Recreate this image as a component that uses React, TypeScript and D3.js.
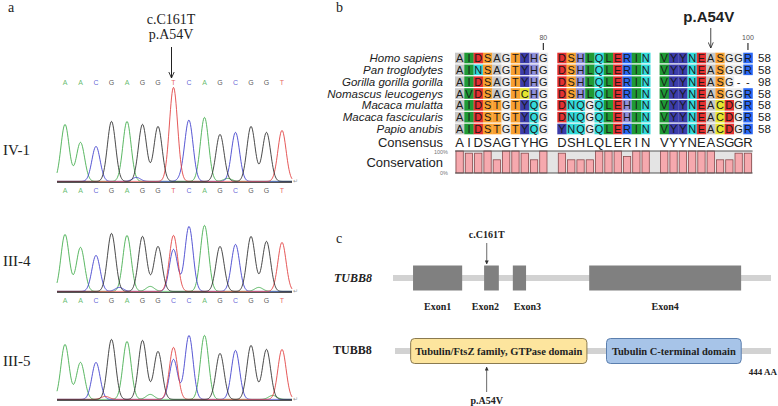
import React from 'react';
import * as d3 from 'd3';

// ---------- Panel a data ----------
const SEQ_REF = ['A', 'A', 'C', 'G', 'A', 'G', 'G', 'T', 'C', 'A', 'G', 'C', 'G', 'G', 'T'];
const SEQ_HET = ['A', 'A', 'C', 'G', 'A', 'G', 'G', 'C', 'C', 'A', 'G', 'C', 'G', 'G', 'T'];
const IV1_HEIGHTS = [57, 39, 35, 60, 60, 57, 55, 94, 60, 64, 47, 49, 55, 49, 51];
const III4_HEIGHTS = [57, 44, 36, 58, 56, 55, 45, 56, 65, 66, 45, 47, 55, 50, 49];
const III5_HEIGHTS = [55, 37, 37, 60, 58, 59, 48, 52, 64, 64, 46, 49, 54, 50, 50];
const III4_EXTRA = [{ i: 7, base: 'C', h: 42 }];
const III5_EXTRA = [{ i: 7, base: 'C', h: 40 }];
const IV1_MINOR = [{ i: 4.6, base: 'C', h: 4 }, { i: 7.6, base: 'C', h: 4 }, { i: 10.5, base: 'A', h: 3 }];
const III4_MINOR = [{ i: 5.5, base: 'A', h: 5 }, { i: 3.5, base: 'C', h: 4 }, { i: 12.5, base: 'A', h: 4 }];
const III5_MINOR = [{ i: 5.5, base: 'A', h: 5 }, { i: 2.6, base: 'T', h: 3 }, { i: 13.4, base: 'A', h: 4 }];
const SAMPLE_LABELS = ['IV-1', 'III-4', 'III-5'];

// ---------- Panel b data ----------
const SPECIES = [
  'Homo sapiens',
  'Pan troglodytes',
  'Gorilla gorilla gorilla',
  'Nomascus leucogenys',
  'Macaca mulatta',
  'Macaca fascicularis',
  'Papio anubis',
];
const ALIGNMENT = [
  'AIDSAGTYHGDSHLQLERINVYYNEASGGR',
  'AINSAGTYHGDSHLQLERINVYYNEASGGR',
  'AIDSAGTYHGDSHLQLERINVYYNEASG--',
  'AVDSAGTCHGDSHLQLERINVYYNEASGGR',
  'AIDSTGTYQGDNQGQLEHINVYYNEACDGR',
  'AIDSTGTYQGDNQGQLEHINVYYNEACDGR',
  'AIDSTGTYQGYNQGQLERINVYYNEACDGR',
];
const END_NUMBERS = ['58', '58', '98', '58', '58', '58', '58'];
const CONSENSUS = 'AIDSAGTYHGDSHLQLERINVYYNEASGGR';
const CONSERVATION = [
  100, 90, 90, 100, 60, 100, 100, 90, 60, 100,
  90, 60, 60, 60, 100, 100, 100, 75, 100, 100,
  100, 100, 100, 100, 100, 100, 60, 60, 90, 90,
];
const POSITION_TICKS = [{ col: 9, label: '80' }, { col: 29, label: '100' }];
const MUTATION_COL = 25;

// ---------- Panel c data ----------
const EXONS = [
  { name: 'Exon1', start: 53, end: 183 },
  { name: 'Exon2', start: 241, end: 280 },
  { name: 'Exon3', start: 317, end: 352 },
  { name: 'Exon4', start: 519, end: 921 },
];
const GENE_LENGTH = 1000;
const CDNA_MUT_POS = 248;
const DOMAINS = [
  { name: 'Tubulin/FtsZ family, GTPase domain', start: 20, end: 245 },
  { name: 'Tubulin C-terminal domain', start: 270, end: 442 },
];
const PROTEIN_AXIS = 480;
const PROT_MUT_POS = 117;

// ---------- styles / layout ----------
const EXON_LABEL_SHIFT = [0, -6, 8, 0];
const DOMAIN_STYLES = [
  { fill: '#fde59e', stroke: '#8a7a50' },
  { fill: '#a7c4e8', stroke: '#5b7fae' },
];
const BASE_COLORS: Record<string, string> = { A: '#3daa48', C: '#3a3acb', G: '#2a2a2a', T: '#e03b3b' };
const RES_COLORS: Record<string, string> = {
  A: '#c8c8c8', G: '#ebebeb', I: '#1f9a35', V: '#1f9a35', L: '#1f9a35',
  D: '#e43030', E: '#e43030', S: '#f8a030', T: '#f8a030', Y: '#3c3caa', F: '#3c3caa',
  N: '#33dada', Q: '#33dada', H: '#9090dc', R: '#2a68f5', K: '#2a68f5', C: '#e6e630', M: '#e6e630',
};

const SERIF = '"Liberation Serif", "Times New Roman", serif';
const SANS = '"Liberation Sans", Arial, sans-serif';

type Peak = { i: number; base: string; h: number };

function Chromatogram({ baseline, peaks, topLetters, bottomLetters, label, labelY }: {
  baseline: number; peaks: Peak[]; topLetters?: string[]; bottomLetters?: string[]; label: string; labelY: number;
}) {
  const x = d3.scaleLinear().domain([0, 14]).range([65, 282]);
  const y = d3.scaleLinear().domain([0, 100]).range([baseline, baseline - 100]);
  const sigma = 4.1;
  const xs = d3.range(57, 292.01, 0.5);
  const order = ['A', 'C', 'T', 'G'];
  const line = d3.line<[number, number]>().x(d => d[0]).y(d => d[1]);
  return (
    <g>
      <text x={3} y={labelY} fontFamily={SERIF} fontSize={15} fill="#222">{label}</text>
      <line x1={57} x2={292} y1={baseline + 0.5} y2={baseline + 0.5} stroke="#555" strokeWidth={1.2} />
      {order.map(b => {
        const pts: [number, number][] = xs.map(px => {
          let v = 0.6;
          peaks.forEach(p => {
            if (p.base === b) {
              const dx = px - x(p.i);
              v += p.h * Math.exp(-(dx * dx) / (2 * sigma * sigma));
            }
          });
          return [px, y(v)];
        });
        return <path key={b} d={line(pts) || ''} fill="none" stroke={BASE_COLORS[b]} strokeWidth={1} strokeOpacity={0.85} />;
      })}
      {topLetters && topLetters.map((b, i) => (
        <text key={'t' + i} x={x(i)} y={85} textAnchor="middle" fontFamily={SANS} fontSize={7} fill={BASE_COLORS[b]} fillOpacity={0.8}>{b}</text>
      ))}
      {bottomLetters && bottomLetters.map((b, i) => (
        <text key={'b' + i} x={x(i)} y={baseline + 11} textAnchor="middle" fontFamily={SANS} fontSize={7} fill={BASE_COLORS[b]} fillOpacity={0.8}>{b}</text>
      ))}
      <text x={293} y={baseline + 1} fontFamily={SANS} fontSize={6} fill="#999">↵</text>
    </g>
  );
}

function makePeaks(seq: string[], heights: number[], extra: Peak[], minor: Peak[]): Peak[] {
  return [...seq.map((b, i) => ({ i, base: b, h: heights[i] })), ...extra, ...minor];
}

export default function App() {
  // ---------- Panel b scales ----------
  const colW = 9.3;
  const colStart = 455;
  const colScale = d3.scaleLinear().domain([0, 32]).range([colStart, colStart + 32 * colW]);
  const colX = (i: number) => colScale(i + Math.floor(i / 10));
  const rowY = d3.scaleLinear().domain([0, 6]).range([58, 129]);
  const cellH = 10.6;
  const consY = 142;
  const barTop = 151;
  const barBottom = 173;
  const consScale = d3.scaleLinear().domain([0, 100]).range([barBottom, barTop]);
  const labelRight = 443;

  // ---------- Panel c scales ----------
  const geneX = d3.scaleLinear().domain([0, GENE_LENGTH]).range([393, 771]);
  const protX = d3.scaleLinear().domain([0, PROTEIN_AXIS]).range([395, 771]);
  const geneY = 278;
  const protY = 351;

  return (
    <svg width={778} height={406} style={{ position: 'absolute', left: 0, top: 0, background: '#fff' }}>
      <defs>
        <marker id="openArrow" viewBox="0 0 10 10" refX={9} refY={5} markerWidth={7} markerHeight={7} orient="auto">
          <path d="M0,1 L9,5 L0,9" fill="none" stroke="#222" strokeWidth={1.3} />
        </marker>
        <marker id="solidArrow" viewBox="0 0 10 10" refX={9} refY={5} markerWidth={5} markerHeight={5} orient="auto">
          <path d="M0,0 L10,5 L0,10 Z" fill="#333" />
        </marker>
      </defs>
      <rect width={778} height={406} fill="#fff" />

      {/* ---------------- Panel a ---------------- */}
      <text x={8} y={12} fontFamily={SERIF} fontSize={14} fill="#222">a</text>
      <text x={171} y={24} textAnchor="middle" fontFamily={SERIF} fontSize={14} fill="#222">c.C161T</text>
      <text x={171} y={39} textAnchor="middle" fontFamily={SERIF} fontSize={14} fill="#222">p.A54V</text>
      <line x1={171.5} x2={171.5} y1={47} y2={78} stroke="#222" strokeWidth={1} markerEnd="url(#openArrow)" />

      <Chromatogram baseline={182} peaks={makePeaks(SEQ_REF, IV1_HEIGHTS, [], IV1_MINOR)}
        topLetters={SEQ_REF} bottomLetters={SEQ_REF} label={SAMPLE_LABELS[0]} labelY={155} />
      <Chromatogram baseline={292} peaks={makePeaks(SEQ_REF, III4_HEIGHTS, III4_EXTRA, III4_MINOR)}
        bottomLetters={SEQ_HET} label={SAMPLE_LABELS[1]} labelY={266} />
      <Chromatogram baseline={400} peaks={makePeaks(SEQ_REF, III5_HEIGHTS, III5_EXTRA, III5_MINOR)}
        label={SAMPLE_LABELS[2]} labelY={366} />

      {/* ---------------- Panel b ---------------- */}
      <text x={336} y={12} fontFamily={SERIF} fontSize={14} fill="#222">b</text>
      <text x={colX(MUTATION_COL) + colW / 2 - 2} y={22} textAnchor="middle" fontFamily={SANS} fontWeight="bold" fontSize={15} fill="#222">p.A54V</text>
      <line x1={colX(MUTATION_COL) + colW / 2} x2={colX(MUTATION_COL) + colW / 2} y1={28} y2={48} stroke="#333" strokeWidth={0.9} markerEnd="url(#openArrow)" />
      {POSITION_TICKS.map(t => (
        <g key={t.label}>
          <text x={colX(t.col) + colW / 2} y={40} textAnchor="middle" fontFamily={SANS} fontSize={7} fill="#555">{t.label}</text>
          <line x1={colX(t.col) + colW / 2} x2={colX(t.col) + colW / 2} y1={43} y2={50} stroke="#333" strokeWidth={1.2} />
        </g>
      ))}

      {SPECIES.map((sp, r) => (
        <g key={sp}>
          <text x={labelRight} y={rowY(r) + 4} textAnchor="end" fontFamily={SANS} fontStyle="italic" fontSize={11.5} fill="#222">{sp}</text>
          {ALIGNMENT[r].split('').map((ch, i) => (
            <g key={i}>
              {ch !== '-' && (
                <rect x={colX(i)} y={rowY(r) - cellH / 2} width={colW + 0.2} height={cellH} fill={RES_COLORS[ch] || '#fff'} />
              )}
              <text x={colX(i) + colW / 2} y={rowY(r) + 4} textAnchor="middle" fontFamily={SANS} fontSize={11} fill="#1a1a1a">{ch}</text>
            </g>
          ))}
          <text x={758} y={rowY(r) + 4} fontFamily={SANS} fontSize={11.5} fill="#222">{END_NUMBERS[r]}</text>
        </g>
      ))}

      <text x={labelRight} y={consY + 5} textAnchor="end" fontFamily={SANS} fontSize={13} fill="#222">Consensus</text>
      {CONSENSUS.split('').map((ch, i) => (
        <text key={i} x={colX(i) + colW / 2} y={consY + 5} textAnchor="middle" fontFamily={SANS} fontSize={13} fill="#222">{ch}</text>
      ))}

      <text x={labelRight} y={(barTop + barBottom) / 2 + 5} textAnchor="end" fontFamily={SANS} fontSize={13} fill="#222">Conservation</text>
      <text x={labelRight + 5} y={barTop + 3} textAnchor="end" fontFamily={SANS} fontSize={5.5} fill="#777">100%</text>
      <text x={labelRight + 5} y={barBottom + 2} textAnchor="end" fontFamily={SANS} fontSize={5.5} fill="#777">0%</text>
      <rect x={colX(0)} y={barTop} width={colX(29) + colW - colX(0)} height={barBottom - barTop} fill="#e4e4e4" />
      {CONSERVATION.map((v, i) => (
        <rect key={i} x={colX(i) + 1} y={consScale(v)} width={colW - 2} height={barBottom - consScale(v)}
          fill="#f6a9ae" stroke="#8a4b4e" strokeWidth={0.8} />
      ))}
      <line x1={colX(0)} x2={colX(29) + colW} y1={barTop} y2={barTop} stroke="#555" strokeWidth={1} />
      <line x1={colX(0)} x2={colX(29) + colW} y1={barBottom} y2={barBottom} stroke="#555" strokeWidth={1} />

      {/* ---------------- Panel c ---------------- */}
      <text x={336} y={243} fontFamily={SERIF} fontSize={14} fill="#222">c</text>
      <text x={334} y={282} fontFamily={SERIF} fontStyle="italic" fontWeight="bold" fontSize={12} fill="#222">TUBB8</text>
      <line x1={geneX(0)} x2={geneX(GENE_LENGTH)} y1={geneY} y2={geneY} stroke="#d2d2d2" strokeWidth={6} />
      {EXONS.map((e, k) => (
        <g key={e.name}>
          <rect x={geneX(e.start)} y={geneY - 12.5} width={geneX(e.end) - geneX(e.start)} height={25} fill="#808080" />
          <text x={(geneX(e.start) + geneX(e.end)) / 2 + EXON_LABEL_SHIFT[k]} y={310} textAnchor="middle" fontFamily={SERIF} fontWeight="bold" fontSize={10} fill="#222">{e.name}</text>
        </g>
      ))}
      <text x={geneX(CDNA_MUT_POS)} y={238} textAnchor="middle" fontFamily={SERIF} fontWeight="bold" fontSize={10} fill="#222">c.C161T</text>
      <line x1={geneX(CDNA_MUT_POS)} x2={geneX(CDNA_MUT_POS)} y1={243} y2={264} stroke="#444" strokeWidth={0.8} markerEnd="url(#solidArrow)" />

      <text x={333} y={354} fontFamily={SERIF} fontWeight="bold" fontSize={12} fill="#222">TUBB8</text>
      <line x1={protX(0)} x2={protX(PROTEIN_AXIS)} y1={protY} y2={protY} stroke="#d2d2d2" strokeWidth={6} />
      {DOMAINS.map((d, k) => (
        <g key={d.name}>
          <rect x={protX(d.start)} y={protY - 12.5} width={protX(d.end) - protX(d.start)} height={25} rx={4} ry={4}
            fill={DOMAIN_STYLES[k].fill} stroke={DOMAIN_STYLES[k].stroke} strokeWidth={1} />
          <text x={(protX(d.start) + protX(d.end)) / 2} y={protY + 3.5} textAnchor="middle" fontFamily={SERIF} fontWeight="bold" fontSize={10.5} fill="#222">{d.name}</text>
        </g>
      ))}
      <text x={777} y={375} textAnchor="end" fontFamily={SERIF} fontWeight="bold" fontSize={9} fill="#222">444 AA</text>
      <line x1={protX(PROT_MUT_POS)} x2={protX(PROT_MUT_POS)} y1={392} y2={367} stroke="#444" strokeWidth={0.8} markerEnd="url(#solidArrow)" />
      <text x={protX(PROT_MUT_POS)} y={404} textAnchor="middle" fontFamily={SERIF} fontWeight="bold" fontSize={10} fill="#222">p.A54V</text>
    </svg>
  );
}
